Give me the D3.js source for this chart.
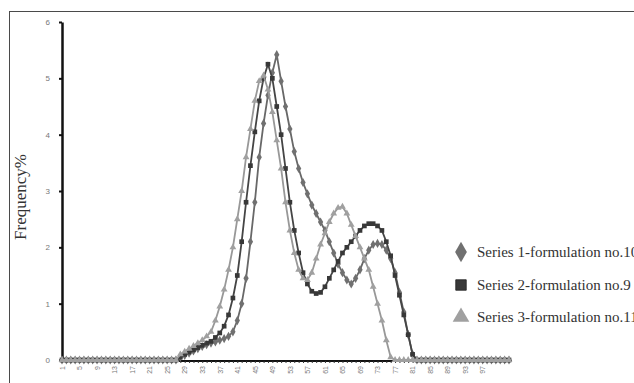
<!DOCTYPE html>
<html>
<head>
<meta charset="utf-8">
<script src="https://cdn.jsdelivr.net/npm/d3@7"></script>
<style>
  body { margin: 0; background: #fff; }
</style>
</head>
<body>
<div class="chart"></div>
<script>
const WIDTH = 634;
const HEIGHT = 383;

// categories 1..103 on the x axis
const categories = [
  1, 2, 3, 4, 5, 6, 7, 8, 9, 10, 11, 12, 13, 14, 15, 16, 17, 18, 19, 20,
  21, 22, 23, 24, 25, 26, 27, 28, 29, 30, 31, 32, 33, 34, 35, 36, 37, 38, 39, 40,
  41, 42, 43, 44, 45, 46, 47, 48, 49, 50, 51, 52, 53, 54, 55, 56, 57, 58, 59, 60,
  61, 62, 63, 64, 65, 66, 67, 68, 69, 70, 71, 72, 73, 74, 75, 76, 77, 78, 79, 80,
  81, 82, 83, 84, 85, 86, 87, 88, 89, 90, 91, 92, 93, 94, 95, 96, 97, 98, 99, 100,
  101, 102, 103
];

const xTickLabels = [1, 5, 9, 13, 17, 21, 25, 29, 33, 37, 41, 45, 49, 53, 57, 61, 65, 69, 73, 77, 81, 85, 89, 93, 97];
const yTicks = [0, 1, 2, 3, 4, 5, 6];

const series1 = [
  0, 0, 0, 0, 0, 0, 0, 0, 0, 0, 0, 0, 0, 0, 0, 0, 0, 0, 0, 0, 0, 0, 0, 0, 0, 0, 0,
  0.05, 0.08, 0.12, 0.16, 0.2, 0.24, 0.27, 0.3, 0.32, 0.35,
  0.38, 0.42, 0.5, 0.7, 1.0, 1.45, 2.1, 2.8, 3.6, 4.2,
  4.7, 5.1, 5.42, 4.95, 4.5, 4.1, 3.7, 3.4, 3.15, 2.95,
  2.75, 2.6, 2.45, 2.3, 2.1, 1.9, 1.7, 1.55, 1.42, 1.35,
  1.45, 1.6, 1.8, 1.95, 2.05, 2.07, 2.05, 1.95, 1.8, 1.55,
  1.2, 0.85, 0.45, 0.1,
  0, 0, 0, 0, 0, 0, 0, 0, 0, 0, 0, 0, 0, 0, 0, 0, 0, 0, 0, 0, 0, 0
];

const series2 = [
  0, 0, 0, 0, 0, 0, 0, 0, 0, 0, 0, 0, 0, 0, 0, 0, 0, 0, 0, 0, 0, 0, 0, 0, 0, 0, 0,
  0.05, 0.1, 0.14, 0.18, 0.22, 0.26, 0.3, 0.33, 0.4, 0.48,
  0.6, 0.8, 1.1, 1.5, 2.1, 2.8, 3.45, 4.05, 4.6, 5.0,
  5.25, 5.0, 4.5, 4.0, 3.4, 2.8, 2.3, 1.9, 1.55, 1.35,
  1.22, 1.18, 1.2, 1.3, 1.45, 1.6, 1.75, 1.9, 2.0, 2.1,
  2.2, 2.3, 2.38, 2.42, 2.42, 2.38, 2.3, 2.1, 1.85, 1.5,
  1.15, 0.8, 0.45, 0.1,
  0, 0, 0, 0, 0, 0, 0, 0, 0, 0, 0, 0, 0, 0, 0, 0, 0, 0, 0, 0, 0, 0
];

const series3 = [
  0, 0, 0, 0, 0, 0, 0, 0, 0, 0, 0, 0, 0, 0, 0, 0, 0, 0, 0, 0, 0, 0, 0, 0, 0, 0, 0,
  0.1, 0.15, 0.2, 0.25, 0.3, 0.35, 0.42, 0.5, 0.7, 0.95,
  1.25, 1.6, 2.0, 2.5, 3.0, 3.6, 4.1, 4.6, 4.95, 5.05,
  4.8, 4.4, 3.9, 3.4, 2.8, 2.3, 1.9, 1.6, 1.45, 1.42,
  1.55, 1.8, 2.05, 2.25, 2.45, 2.6, 2.7, 2.72, 2.6, 2.4,
  2.2, 2.0, 1.8, 1.6, 1.3, 1.0, 0.7, 0.35, 0.05,
  0, 0, 0, 0, 0, 0, 0, 0, 0, 0, 0, 0, 0, 0, 0, 0, 0, 0, 0, 0, 0, 0, 0, 0, 0, 0, 0
];

const seriesNames = [
  "Series 1-formulation no.10",
  "Series 2-formulation no.9",
  "Series 3-formulation no.11"
];

const seriesStyles = [
  { values: series1, line: "#686868", marker: "#707070", symbol: d3.symbolDiamond, size: 24 },
  { values: series2, line: "#454545", marker: "#383838", symbol: d3.symbolSquare, size: 22 },
  { values: series3, line: "#989898", marker: "#a0a0a0", symbol: d3.symbolTriangle, size: 20 }
];

const svg = d3.create("svg")
  .attr("width", WIDTH)
  .attr("height", HEIGHT)
  .style("font-family", "'Liberation Sans', Arial, sans-serif");

// outer frame
svg.append("rect")
  .attr("x", 9.5)
  .attr("y", 11.5)
  .attr("width", 700)
  .attr("height", 500)
  .attr("fill", "none")
  .attr("stroke", "#4a4a4a")
  .attr("stroke-width", 1);

const x = d3.scaleLinear().domain([1, 103]).range([62, 509]);
const y = d3.scaleLinear().domain([0, 6]).range([360, 22]);

// x axis
const xAxis = svg.append("g")
  .attr("transform", `translate(0, ${y(0) + 1})`)
  .call(
    d3.axisBottom(x)
      .tickValues(categories)
      .tickSize(2)
      .tickSizeOuter(0)
      .tickFormat((d) => (xTickLabels.includes(d) ? d : ""))
  );

xAxis.select(".domain")
  .attr("d", `M62,0H512`)
  .attr("stroke", "#111")
  .attr("stroke-width", 2.2);
xAxis.selectAll(".tick line").attr("stroke", "#333");
xAxis.selectAll(".tick text")
  .attr("transform", "rotate(-90)")
  .attr("text-anchor", "end")
  .attr("x", -5)
  .attr("y", 0)
  .attr("dy", "0.32em")
  .attr("fill", "#777")
  .style("font-size", "7px");

// y axis
const yAxis = svg.append("g")
  .attr("transform", `translate(62, 0)`)
  .call(
    d3.axisLeft(y)
      .tickValues(yTicks)
      .tickSize(3)
      .tickPadding(9)
      .tickSizeOuter(0)
      .tickFormat(d3.format("d"))
  );

yAxis.select(".domain").attr("stroke", "#111").attr("stroke-width", 2.5);
yAxis.selectAll(".tick line").attr("stroke", "#111").attr("stroke-width", 2);
yAxis.selectAll(".tick text").attr("fill", "#777").style("font-size", "8px");

// y axis title
svg.append("text")
  .attr("transform", `translate(26, 197) rotate(-90)`)
  .attr("text-anchor", "middle")
  .attr("fill", "#333")
  .style("font-family", "'Liberation Serif', 'Times New Roman', serif")
  .style("font-size", "17px")
  .text("Frequency%");

// series lines and markers
const line = d3.line()
  .x((d, i) => x(categories[i]))
  .y((d) => y(d));

for (let s of seriesStyles) {
  const g = svg.append("g");

  g.append("path")
    .attr("d", line(s.values))
    .attr("fill", "none")
    .attr("stroke", s.line)
    .attr("stroke-width", 1.8);

  g.selectAll("path.marker")
    .data(s.values)
    .join("path")
    .attr("class", "marker")
    .attr("transform", (d, i) => `translate(${x(categories[i])}, ${y(d)})`)
    .attr("d", d3.symbol().type(s.symbol).size(s.size))
    .attr("fill", s.marker);
}

// legend
const legend = svg.append("g");
const legendY = [252, 285, 317];
const legendSizes = [120, 110, 120];

seriesStyles.forEach((s, i) => {
  legend.append("path")
    .attr("transform", `translate(461, ${legendY[i]})`)
    .attr("d", d3.symbol().type(s.symbol).size(legendSizes[i]))
    .attr("fill", s.marker)
    .attr("stroke", i === 1 ? "#222" : "none")
    .attr("stroke-width", 0.8);

  legend.append("text")
    .attr("x", 477)
    .attr("y", legendY[i])
    .attr("dy", "0.35em")
    .attr("fill", "#333")
    .style("font-family", "'Liberation Serif', 'Times New Roman', serif")
    .style("font-size", "15px")
    .text(seriesNames[i]);
});

document.querySelector(".chart").append(svg.node());
</script>
</body>
</html>
